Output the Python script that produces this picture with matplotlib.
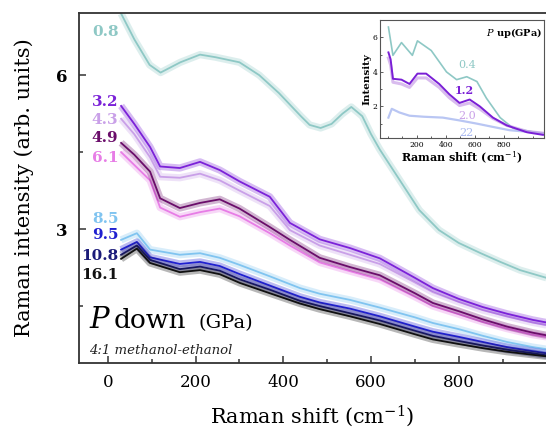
import numpy as np
import matplotlib
matplotlib.use("Agg")
import matplotlib.pyplot as plt
from matplotlib.ticker import MultipleLocator

plt.rcParams['font.family'] = ['DejaVu Serif']
plt.rcParams['mathtext.fontset'] = 'dejavuserif'

# ---- main panel: P down ----
x_08 = [30, 60, 95, 120, 165, 210, 245, 300, 345, 390, 440, 460, 485, 510, 535, 555, 580, 600, 620, 665, 710, 755, 800, 850, 895, 940, 1000]
y_08 = [7.2, 6.7, 6.2, 6.05, 6.25, 6.4, 6.35, 6.25, 6.0, 5.65, 5.2, 5.03, 4.97, 5.05, 5.25, 5.38, 5.2, 4.85, 4.55, 3.96, 3.37, 2.98, 2.73, 2.53, 2.36, 2.2, 2.05]

x_mid = [30, 60, 96, 119, 164, 210, 255, 300, 369, 415, 483, 552, 620, 700, 741, 800, 855, 910, 969, 1000]
y_32 = [5.4, 5.05, 4.6, 4.22, 4.19, 4.31, 4.15, 3.93, 3.63, 3.12, 2.8, 2.63, 2.43, 2.05, 1.85, 1.64, 1.48, 1.35, 1.23, 1.18]
y_43 = [5.15, 4.85, 4.4, 4.02, 4.0, 4.08, 3.95, 3.75, 3.45, 2.98, 2.68, 2.5, 2.32, 1.96, 1.77, 1.58, 1.42, 1.3, 1.18, 1.13]
y_49 = [4.68, 4.45, 4.12, 3.6, 3.41, 3.51, 3.58, 3.4, 3.04, 2.79, 2.44, 2.26, 2.1, 1.75, 1.56, 1.4, 1.24, 1.1, 0.98, 0.93]
y_61 = [4.5, 4.25, 3.95, 3.42, 3.24, 3.33, 3.4, 3.25, 2.92, 2.68, 2.35, 2.18, 2.02, 1.68, 1.5, 1.34, 1.19, 1.06, 0.94, 0.9]

x_low = [30, 66, 96, 164, 210, 255, 301, 369, 438, 483, 552, 620, 700, 741, 800, 855, 910, 969, 1000]
y_85 = [2.79, 2.92, 2.6, 2.5, 2.53, 2.44, 2.3, 2.08, 1.85, 1.74, 1.62, 1.47, 1.28, 1.17, 1.05, 0.92, 0.8, 0.7, 0.66]
y_95 = [2.6, 2.75, 2.45, 2.32, 2.36, 2.28, 2.12, 1.9, 1.68, 1.57, 1.45, 1.3, 1.1, 1.0, 0.9, 0.8, 0.7, 0.62, 0.58]
y_108 = [2.5, 2.68, 2.4, 2.22, 2.27, 2.19, 2.02, 1.82, 1.6, 1.5, 1.36, 1.22, 1.02, 0.92, 0.82, 0.73, 0.65, 0.58, 0.54]
y_161 = [2.42, 2.62, 2.34, 2.16, 2.2, 2.12, 1.95, 1.75, 1.55, 1.44, 1.3, 1.15, 0.95, 0.85, 0.76, 0.68, 0.61, 0.55, 0.52]

labels_down = ["0.8", "3.2", "4.3", "4.9", "6.1", "8.5", "9.5", "10.8", "16.1"]
label_y = [6.84, 5.48, 5.13, 4.78, 4.39, 3.2, 2.88, 2.48, 2.1]
colors_down = ["#8ec8c5", "#7b22d8", "#c9a0e8", "#6a0d6a", "#e77de6",
               "#80c4f0", "#2020d0", "#1a1a78", "#111111"]

# ---- inset: P up ----
xi_04 = [5, 36, 95, 170, 205, 300, 405, 475, 545, 615, 680, 775, 865, 1070]
yi_04 = [6.6, 4.96, 5.7, 4.96, 5.8, 5.24, 4.0, 3.55, 3.72, 3.44, 2.48, 1.35, 0.73, 0.42]
xi_12 = [5, 20, 36, 95, 150, 205, 265, 355, 425, 495, 565, 635, 725, 820, 960, 1070]
yi_12 = [5.13, 4.73, 3.6, 3.55, 3.3, 3.9, 3.9, 3.3, 2.7, 2.2, 2.4, 2.0, 1.35, 0.9, 0.5, 0.35]
yi_20 = [4.8, 4.4, 3.4, 3.3, 3.1, 3.65, 3.65, 3.1, 2.5, 2.05, 2.2, 1.85, 1.3, 0.9, 0.55, 0.45]
xi_22 = [5, 28, 80, 150, 250, 380, 500, 615, 720, 840, 1070]
yi_22 = [1.35, 1.86, 1.65, 1.46, 1.4, 1.35, 1.18, 1.0, 0.82, 0.62, 0.45]

labels_up = ["0.4", "1.2", "2.0", "22"]
colors_up = ["#8ec8c5", "#7a1fd6", "#c9a0e8", "#a8b8f0"]


def noisy_line(ax, x, y, c, lw=1.3):
    # wide faint band + core line, stands in for the spectral noise
    ax.plot(x, y, color=c, lw=lw * 4, alpha=0.3, solid_capstyle='butt')
    ax.plot(x, y, color=c, lw=lw)


fig = plt.figure(figsize=(5.46, 4.38), dpi=100)
ax = fig.add_axes([0.1447, 0.1712, 0.8553, 0.799])

noisy_line(ax, x_08, y_08, colors_down[0])
noisy_line(ax, x_mid, y_61, colors_down[4])
noisy_line(ax, x_mid, y_49, colors_down[3])
noisy_line(ax, x_mid, y_43, colors_down[2])
noisy_line(ax, x_mid, y_32, colors_down[1])
noisy_line(ax, x_low, y_85, colors_down[5])
noisy_line(ax, x_low, y_95, colors_down[6])
noisy_line(ax, x_low, y_108, colors_down[7])
noisy_line(ax, x_low, y_161, colors_down[8])

for lab, yy, c in zip(labels_down, label_y, colors_down):
    ax.text(24, yy, lab, color=c, fontsize=11, fontweight='bold', ha='right', va='center')

ax.set_xlim(-66, 999)
ax.set_ylim(0.39, 7.21)
ax.xaxis.set_major_locator(MultipleLocator(200))
ax.xaxis.set_minor_locator(MultipleLocator(100))
ax.yaxis.set_major_locator(MultipleLocator(3))
ax.yaxis.set_minor_locator(MultipleLocator(1.5))
ax.tick_params(which='both', direction='in', width=1.1, color='#333333')
ax.tick_params(which='major', length=5, labelsize=12, pad=8)
ax.tick_params(which='minor', length=3)
for s in ['left', 'bottom', 'top']:
    ax.spines[s].set_linewidth(1.3)
    ax.spines[s].set_color('#333333')
ax.spines['right'].set_visible(False)
for t in ax.get_yticklabels():
    t.set_fontweight('bold')

ax.set_xlabel("Raman shift (cm$^{-1}$)", fontsize=15, labelpad=9)
ax.set_ylabel("Raman intensity (arb. units)", fontsize=15, labelpad=16)

ax.text(0.022, 0.1, "P", transform=ax.transAxes, fontsize=21, style='italic', va='baseline')
ax.text(0.075, 0.1, "down", transform=ax.transAxes, fontsize=19, va='baseline')
ax.text(0.255, 0.1, "(GPa)", transform=ax.transAxes, fontsize=14, va='baseline')
ax.text(0.021, 0.037, "4:1 methanol-ethanol", transform=ax.transAxes,
        fontsize=9.5, style='italic', va='center', color='#222222')

# inset
axi = fig.add_axes([0.696, 0.685, 0.30, 0.269])
axi.plot(xi_04, yi_04, color=colors_up[0], lw=1.2)
axi.plot(xi_22, yi_22, color=colors_up[3], lw=1.6, alpha=0.8)
axi.plot(xi_12, yi_20, color=colors_up[2], lw=2.2, alpha=0.7)
axi.plot(xi_12, yi_12, color=colors_up[1], lw=1.4)
axi.set_xlim(-53, 1076)
axi.set_ylim(0.17, 7.0)
axi.xaxis.set_major_locator(MultipleLocator(200))
axi.xaxis.set_minor_locator(MultipleLocator(100))
axi.yaxis.set_major_locator(MultipleLocator(2))
axi.yaxis.set_minor_locator(MultipleLocator(1))
axi.set_xticks([200, 400, 600, 800])
axi.tick_params(which='both', direction='in', width=0.6, color='#444444')
axi.tick_params(which='major', length=2.5, labelsize=5.5, pad=2)
axi.tick_params(which='minor', length=1.5)
for s in axi.spines.values():
    s.set_linewidth(0.8)
    s.set_color('#555555')
axi.set_xlabel("Raman shift (cm$^{-1}$)", fontsize=8, fontweight='bold', labelpad=1)
axi.set_ylabel("Intensity", fontsize=7.5, fontweight='bold', labelpad=1)

lab_pos_up = [(545, 4.4), (531, 2.93), (545, 1.46), (545, 0.45)]
for lab, (xx, yy), c in zip(labels_up, lab_pos_up, colors_up):
    w = 'bold' if lab == "1.2" else 'normal'
    axi.text(xx, yy, lab, color=c, fontsize=8, fontweight=w, ha='center', va='center')
axi.text(0.99, 0.89, "$P$ up(GPa)", transform=axi.transAxes, fontsize=7,
         fontweight='bold', ha='right', va='center')

fig.savefig("out.png", dpi=100)
